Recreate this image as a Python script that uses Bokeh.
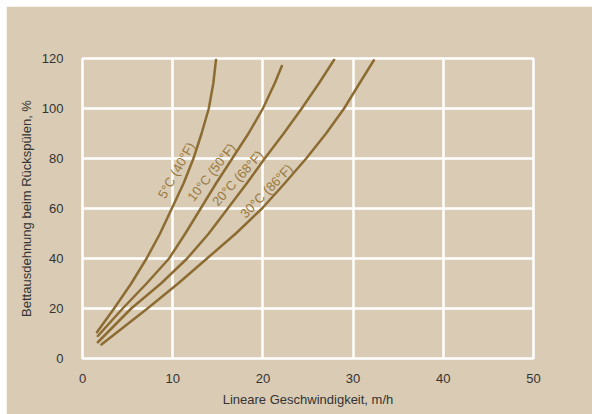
from bokeh.plotting import figure
from bokeh.models import Range1d, FixedTicker, ColumnDataSource
from bokeh.embed import file_html
from bokeh.resources import INLINE
from bokeh.core.properties import value
import math

# Data (x = linear velocity m/h, y = bed expansion %)
y_5 = [10.5, 20, 30, 40, 50, 60, 70, 80, 90, 100, 110, 119.5]
x_5 = [1.6, 3.5, 5.4, 7.1, 8.6, 9.9, 11.2, 12.3, 13.2, 14.0, 14.5, 14.8]

y_10 = [9.0, 20, 30, 40, 50, 60, 70, 80, 90, 100, 110, 117]
x_10 = [1.7, 4.45, 7.1, 9.6, 11.4, 13.1, 14.8, 16.6, 18.4, 20.0, 21.3, 22.1]

y_20 = [6.5, 20, 30, 40, 50, 60, 70, 80, 90, 100, 110, 119.5]
x_20 = [1.7, 5.4, 8.7, 11.6, 14.0, 16.1, 18.2, 20.2, 22.3, 24.3, 26.2, 27.9]

y_30 = [5.6, 20, 30, 40, 50, 60, 70, 80, 90, 100, 110, 119.3]
x_30 = [2.1, 7.2, 10.6, 13.8, 17.0, 19.9, 22.4, 24.8, 27.0, 29.0, 30.7, 32.3]

curve_labels = ["5°C (40°F)", "10°C (50°F)", "20°C (68°F)", "30°C (86°F)"]
label_x = [10.4, 14.3, 17.2, 20.4]
label_y = [75.3, 74.5, 72.1, 67.0]
label_angle_deg = [61, 52, 48, 46]

x_ticks = [0, 10, 20, 30, 40, 50]
y_ticks = [0, 20, 40, 60, 80, 100, 120]

x_title = "Lineare Geschwindigkeit, m/h"
y_title = "Bettausdehnung beim Rückspülen, %"

BG = "#D9CBB4"
CURVE = "#8C6C32"
LABEL = "#98783F"
TEXT = "#333333"
FONT = "Liberation Sans"

p = figure(width=586, height=408, output_backend="svg", toolbar_location=None,
           x_range=Range1d(0, 50), y_range=Range1d(0, 120),
           min_border_left=76, min_border_right=59, min_border_top=52, min_border_bottom=56,
           margin=(6, 0, 0, 6))

p.background_fill_color = BG
p.border_fill_color = BG
p.outline_line_color = "white"
p.outline_line_width = 2.5

for g in (p.xgrid, p.ygrid):
    g.grid_line_color = "white"
    g.grid_line_width = 2.5
p.xgrid.ticker = FixedTicker(ticks=x_ticks)
p.ygrid.ticker = FixedTicker(ticks=y_ticks)

p.xaxis.ticker = FixedTicker(ticks=x_ticks)
p.yaxis.ticker = FixedTicker(ticks=y_ticks)
for ax in (p.xaxis, p.yaxis):
    ax.axis_line_color = None
    ax.major_tick_line_color = None
    ax.minor_tick_line_color = None
    ax.major_label_text_font = FONT
    ax.major_label_text_font_size = "13px"
    ax.major_label_text_color = TEXT
    ax.axis_label_text_font = FONT
    ax.axis_label_text_font_size = "13px"
    ax.axis_label_text_font_style = "normal"
    ax.axis_label_text_color = TEXT
p.xaxis.axis_label = x_title
p.yaxis.axis_label = y_title
p.xaxis.major_label_standoff = 9
p.xaxis.axis_label_standoff = 6
p.yaxis.major_label_standoff = 13
p.yaxis.axis_label_standoff = 5

for xs, ys in ((x_5, y_5), (x_10, y_10), (x_20, y_20), (x_30, y_30)):
    p.line(xs, ys, line_color=CURVE, line_width=2.5, line_cap="round", line_join="round")

src = ColumnDataSource(dict(x=label_x, y=label_y, text=curve_labels,
                            angle=[math.radians(a) for a in label_angle_deg]))
p.text(x="x", y="y", text="text", angle="angle", source=src,
       text_font=value(FONT), text_font_size="13px", text_color=LABEL,
       text_align="center", text_baseline="middle")

open("out.html", "w").write(file_html(p, INLINE))
